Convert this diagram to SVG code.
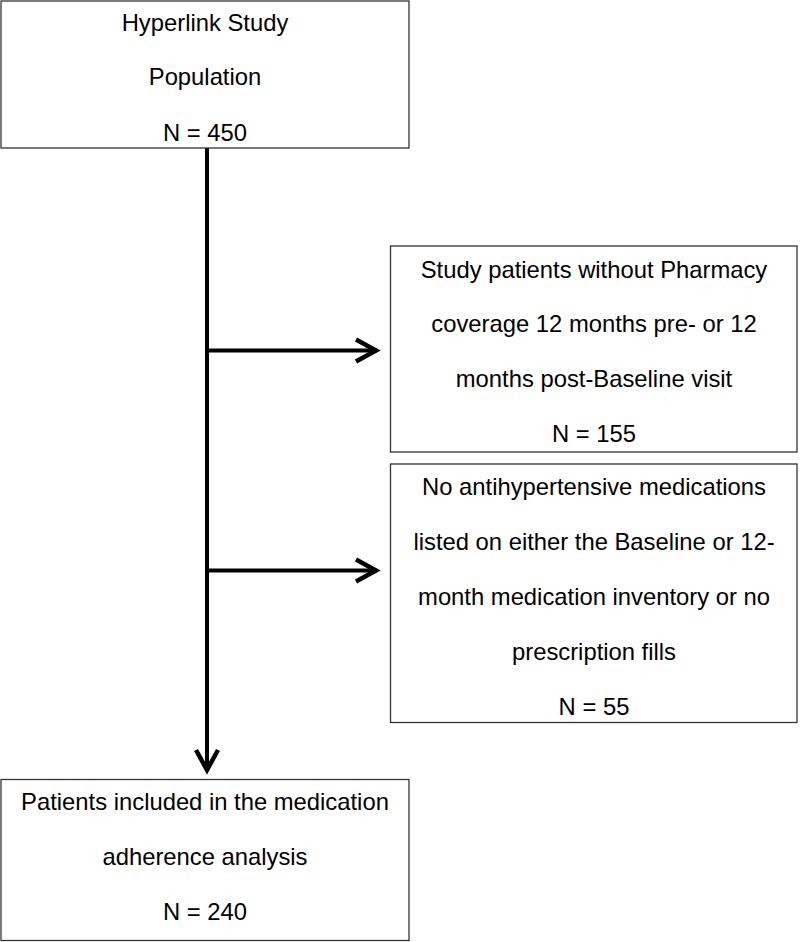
<svg xmlns="http://www.w3.org/2000/svg" width="800" height="942" viewBox="0 0 800 942">
<style>
.box{fill:#fff;stroke:#333;stroke-width:1.3}
.t{font-family:"Liberation Sans",Arial,sans-serif;font-size:23.8px;fill:#000;text-anchor:middle}
.ln{stroke:#000;stroke-width:4;fill:none}
</style>
<defs>
<marker id="ah" markerUnits="userSpaceOnUse" markerWidth="40" markerHeight="40" viewBox="-30 -20 40 40" refX="0" refY="0" orient="auto">
<path d="M-21,-11 L-1,0 L-21,11" fill="none" stroke="#000" stroke-width="4.5" stroke-linejoin="miter"/>
</marker>
</defs>
<rect width="800" height="942" fill="#fff"/>
<g id="connectors">
<path class="ln" d="M207,148 L207,771" marker-end="url(#ah)"/>
<path class="ln" d="M207,350.5 L377,350.5" marker-end="url(#ah)"/>
<path class="ln" d="M207,570.5 L377,570.5" marker-end="url(#ah)"/>
</g>
<g id="population">
<rect class="box" x="1" y="1" width="408" height="147"/>
<text class="t" x="205" y="31">Hyperlink Study</text>
<text class="t" x="205" y="85">Population</text>
<text class="t" x="205" y="141">N = 450</text>
</g>
<g id="no-pharmacy">
<rect class="box" x="390.5" y="246" width="406.5" height="206"/>
<text class="t" x="594" y="277.5">Study patients without Pharmacy</text>
<text class="t" x="594" y="332">coverage 12 months pre- or 12</text>
<text class="t" x="594" y="387">months post-Baseline visit</text>
<text class="t" x="594" y="442">N = 155</text>
</g>
<g id="no-meds">
<rect class="box" x="390.5" y="464" width="406.5" height="258.5"/>
<text class="t" x="594" y="494.5">No antihypertensive medications</text>
<text class="t" x="594" y="549.5">listed on either the Baseline or 12-</text>
<text class="t" x="594" y="605">month medication inventory or no</text>
<text class="t" x="594" y="660">prescription fills</text>
<text class="t" x="594" y="715">N = 55</text>
</g>
<g id="included">
<rect class="box" x="1" y="779.5" width="408" height="161"/>
<text class="t" x="205" y="809.5">Patients included in the medication</text>
<text class="t" x="205" y="865">adherence analysis</text>
<text class="t" x="205" y="920">N = 240</text>
</g>
</svg>
